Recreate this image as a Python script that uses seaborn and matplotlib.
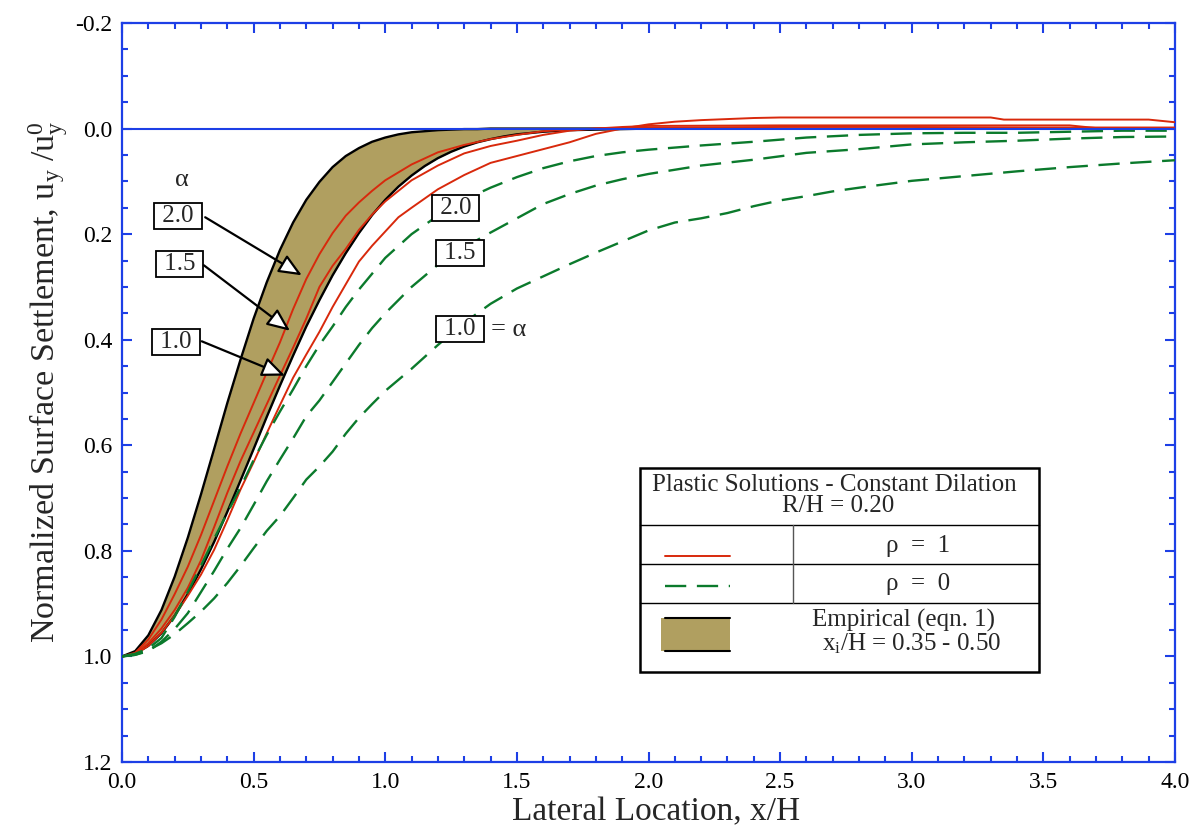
import numpy as np
import pandas as pd
import matplotlib
matplotlib.use("Agg")
import matplotlib.pyplot as plt
import seaborn as sns
from matplotlib.ticker import MultipleLocator, FormatStrFormatter
from matplotlib.patches import Rectangle
from matplotlib.lines import Line2D

# ---------------- data ----------------
emp_x = [0.00, 0.05, 0.10, 0.15, 0.20, 0.25, 0.30, 0.35, 0.40, 0.45, 0.50, 0.55, 0.60,
         0.65, 0.70, 0.75, 0.80, 0.85, 0.90, 0.95, 1.00, 1.05, 1.10, 1.15, 1.20, 1.25,
         1.30, 1.35, 1.40, 1.45, 1.50, 1.60, 1.70, 1.80, 1.90, 2.00]
emp_i035 = [1.000, 0.990, 0.960, 0.912, 0.849, 0.775, 0.693, 0.607, 0.520, 0.438, 0.360, 0.291, 0.230,
            0.178, 0.135, 0.101, 0.073, 0.052, 0.037, 0.025, 0.017, 0.011, 0.007, 0.005, 0.003, 0.002,
            0.001, 0.001, 0.000, 0.000, 0.000, 0.000, 0.000, 0.000, 0.000, 0.000]
emp_i050 = [1.000, 0.995, 0.980, 0.956, 0.923, 0.882, 0.835, 0.783, 0.726, 0.667, 0.607, 0.546, 0.487,
            0.430, 0.375, 0.325, 0.278, 0.236, 0.198, 0.164, 0.135, 0.110, 0.089, 0.071, 0.056, 0.044,
            0.034, 0.026, 0.020, 0.015, 0.011, 0.006, 0.003, 0.002, 0.001, 0.000]

# rho = 1 (red, solid)
r20_x = [0.0, 0.05, 0.1, 0.15, 0.2, 0.25, 0.3, 0.35, 0.4, 0.45, 0.5, 0.55, 0.6, 0.65, 0.7, 0.75, 0.8,
         0.85, 0.9, 0.95, 1.0, 1.1, 1.2, 1.3, 1.4, 1.5, 1.6, 1.7, 1.8, 2.0, 2.5, 3.0, 3.5, 4.0]
r20_y = [1.000, 0.993, 0.968, 0.930, 0.882, 0.830, 0.770, 0.705, 0.640, 0.578, 0.520, 0.462, 0.405,
         0.342, 0.285, 0.238, 0.198, 0.165, 0.140, 0.118, 0.098, 0.068, 0.045, 0.031, 0.020, 0.012,
         0.005, 0.002, 0.000, -0.002, -0.003, -0.003, -0.002, -0.002]
r15_x = [0.0, 0.05, 0.1, 0.15, 0.2, 0.25, 0.3, 0.35, 0.4, 0.45, 0.5, 0.55, 0.6, 0.65, 0.7, 0.75, 0.8,
         0.85, 0.9, 0.95, 1.0, 1.1, 1.2, 1.3, 1.4, 1.5, 1.6, 1.7, 1.8, 1.9, 2.0, 2.5, 3.0, 3.5, 3.6,
         3.7, 4.0]
r15_y = [1.000, 0.995, 0.975, 0.947, 0.912, 0.870, 0.818, 0.755, 0.690, 0.630, 0.576, 0.522, 0.468,
         0.415, 0.360, 0.300, 0.260, 0.228, 0.192, 0.163, 0.138, 0.098, 0.070, 0.047, 0.033, 0.023,
         0.012, 0.004, 0.000, -0.003, -0.005, -0.006, -0.006, -0.006, -0.006, -0.001, -0.001]
r10_x = [0.0, 0.05, 0.1, 0.15, 0.2, 0.25, 0.3, 0.35, 0.4, 0.45, 0.5, 0.55, 0.6, 0.65, 0.7, 0.75, 0.8,
         0.85, 0.9, 0.95, 1.0, 1.05, 1.1, 1.2, 1.3, 1.4, 1.5, 1.6, 1.7, 1.8, 1.9, 2.0, 2.1, 2.2, 2.3,
         2.4, 2.5, 3.0, 3.3, 3.35, 3.9, 4.0]
r10_y = [1.000, 0.996, 0.980, 0.955, 0.923, 0.885, 0.845, 0.798, 0.742, 0.684, 0.632, 0.577, 0.524,
         0.472, 0.428, 0.385, 0.338, 0.295, 0.252, 0.222, 0.195, 0.168, 0.150, 0.115, 0.088, 0.065,
         0.052, 0.039, 0.026, 0.010, 0.000, -0.008, -0.013, -0.016, -0.018, -0.020, -0.021, -0.021,
         -0.021, -0.017, -0.017, -0.012]

# rho = 0 (green, dashed)
g20_x = [0.0, 0.05, 0.1, 0.15, 0.2, 0.25, 0.3, 0.35, 0.4, 0.45, 0.5, 0.55, 0.6, 0.65, 0.7, 0.75, 0.8,
         0.85, 0.9, 0.95, 1.0, 1.1, 1.2, 1.3, 1.4, 1.5, 1.6, 1.7, 1.8, 1.9, 2.0, 2.2, 2.4, 2.6, 2.8,
         3.0, 3.2, 3.4, 3.6, 3.8, 4.0]
g20_y = [1.000, 0.995, 0.985, 0.965, 0.925, 0.878, 0.828, 0.777, 0.728, 0.680, 0.628, 0.580, 0.536,
         0.494, 0.450, 0.410, 0.375, 0.338, 0.305, 0.275, 0.245, 0.200, 0.165, 0.135, 0.112, 0.092,
         0.075, 0.062, 0.052, 0.045, 0.040, 0.032, 0.025, 0.017, 0.012, 0.009, 0.008, 0.008, 0.006,
         0.004, 0.004]
g15_x = [0.0, 0.05, 0.1, 0.15, 0.2, 0.25, 0.3, 0.35, 0.4, 0.45, 0.5, 0.55, 0.6, 0.65, 0.7, 0.75, 0.8,
         0.85, 0.9, 0.95, 1.0, 1.1, 1.2, 1.3, 1.4, 1.5, 1.6, 1.7, 1.8, 1.9, 2.0, 2.2, 2.4, 2.6, 2.8,
         3.0, 3.2, 3.4, 3.6, 3.8, 4.0]
g15_y = [1.000, 0.997, 0.990, 0.972, 0.948, 0.918, 0.878, 0.838, 0.796, 0.757, 0.713, 0.668, 0.627,
         0.587, 0.545, 0.515, 0.480, 0.445, 0.410, 0.378, 0.350, 0.300, 0.258, 0.225, 0.197, 0.170,
         0.143, 0.124, 0.108, 0.096, 0.086, 0.070, 0.059, 0.046, 0.039, 0.030, 0.026, 0.023, 0.019,
         0.016, 0.015]
g10_x = [0.0, 0.05, 0.1, 0.15, 0.2, 0.25, 0.3, 0.35, 0.4, 0.45, 0.5, 0.55, 0.6, 0.65, 0.7, 0.75, 0.8,
         0.85, 0.9, 0.95, 1.0, 1.1, 1.2, 1.3, 1.4, 1.5, 1.6, 1.7, 1.8, 1.9, 2.0, 2.1, 2.2, 2.3, 2.4,
         2.5, 2.6, 2.7, 2.8, 3.0, 3.2, 3.4, 3.6, 3.8, 4.0]
g10_y = [1.000, 0.997, 0.988, 0.975, 0.958, 0.937, 0.915, 0.890, 0.861, 0.829, 0.795, 0.762, 0.734,
         0.700, 0.665, 0.640, 0.612, 0.578, 0.548, 0.522, 0.497, 0.455, 0.410, 0.368, 0.332, 0.303,
         0.280, 0.257, 0.235, 0.214, 0.193, 0.178, 0.170, 0.160, 0.147, 0.136, 0.128, 0.119, 0.112,
         0.099, 0.090, 0.081, 0.073, 0.066, 0.060]

x_ticks = [0.0, 0.5, 1.0, 1.5, 2.0, 2.5, 3.0, 3.5, 4.0]
y_ticks = [-0.2, 0.0, 0.2, 0.4, 0.6, 0.8, 1.0, 1.2]

# ---------------- style ----------------
RED = "#d8290c"
GREEN = "#0b7a2c"
OLIVE = "#b09f60"
BLUE = "#1d3fe6"

sns.set_theme(style="white")
plt.rcParams["font.family"] = ["Liberation Serif", "DejaVu Serif"]
plt.rcParams["mathtext.fontset"] = "custom"
plt.rcParams["mathtext.rm"] = "Liberation Serif"
plt.rcParams["mathtext.it"] = "Liberation Serif:italic"

fig = plt.figure(figsize=(12.01, 8.34), dpi=100)
ax = fig.add_axes([122 / 1201, 1 - 762 / 834, 1053 / 1201, 739 / 834])

# empirical band
ax.fill_between(emp_x, emp_i035, emp_i050, color=OLIVE, lw=0, zorder=1)
sns.lineplot(x=emp_x, y=emp_i035, ax=ax, color="black", lw=1.7, estimator=None, sort=False, zorder=2)
sns.lineplot(x=emp_x, y=emp_i050, ax=ax, color="black", lw=1.7, estimator=None, sort=False, zorder=2)

for xs, ys in [(r20_x, r20_y), (r15_x, r15_y), (r10_x, r10_y)]:
    sns.lineplot(x=xs, y=ys, ax=ax, color=RED, lw=1.4, estimator=None, sort=False, zorder=3)

for xs, ys in [(g20_x, g20_y), (g15_x, g15_y), (g10_x, g10_y)]:
    sns.lineplot(x=xs, y=ys, ax=ax, color=GREEN, lw=1.7, estimator=None, sort=False, zorder=3)
    ax.lines[-1].set_linestyle((0, (9, 4.5)))

ax.axhline(0.0, color=BLUE, lw=1.5, zorder=4)

# axes
ax.set_xlim(0, 4.0)
ax.set_ylim(1.2, -0.2)
ax.xaxis.set_major_locator(MultipleLocator(0.5))
ax.xaxis.set_minor_locator(MultipleLocator(0.1))
ax.yaxis.set_major_locator(MultipleLocator(0.2))
ax.yaxis.set_minor_locator(MultipleLocator(0.05))
ax.xaxis.set_major_formatter(FormatStrFormatter("%.1f"))
ax.yaxis.set_major_formatter(FormatStrFormatter("%.1f"))
ax.set_xticks(x_ticks)
ax.set_yticks(y_ticks)
ax.tick_params(which="both", direction="in", top=True, right=True, bottom=True, left=True,
               color=BLUE, width=1.5, labelsize=17, labelcolor="black")
ax.tick_params(which="major", length=7.5, pad=7)
ax.tick_params(which="minor", length=4.5)
for s in ax.spines.values():
    s.set_color(BLUE)
    s.set_linewidth(1.6)
ax.grid(False)

ax.set_xlabel("Lateral Location, x/H", fontsize=24)
ax.xaxis.set_label_coords(0.507, -0.047)
ax.set_ylabel(r"Normalized Surface Settlement, u$_{\mathrm{y}}$ /u$_{\mathrm{y}}^{\mathrm{0}}$", fontsize=24.5)
ax.yaxis.set_label_coords(-0.049, 0.515)

# annotations: alpha labels on left with arrows
box = dict(boxstyle="square,pad=0.08", fc="white", ec="black", lw=1.3)
ax.text(0.227, 0.098, "α", fontsize=19, ha="center", va="center")
for lab, (bx, by), (sx, sy), (tx, ty) in [
    ("2.0", (0.212, 0.165), (0.316, 0.168), (0.683, 0.278)),
    ("1.5", (0.218, 0.256), (0.311, 0.259), (0.638, 0.383)),
    ("1.0", (0.205, 0.405), (0.303, 0.403), (0.619, 0.468)),
]:
    ax.text(bx, by, " " + lab + " ", fontsize=18, ha="center", va="center", bbox=box, zorder=6)
    ax.annotate("", xy=(tx, ty), xytext=(sx, sy),
                arrowprops=dict(arrowstyle="-|>,head_length=0.7,head_width=0.3", mutation_scale=20,
                                fc="white", ec="black", lw=1.6, shrinkA=0, shrinkB=0), zorder=6)

for lab, (bx, by) in [("2.0", (1.267, 0.151)), ("1.5", (1.283, 0.235)), ("1.0", (1.283, 0.379))]:
    ax.text(bx, by, " " + lab + " ", fontsize=18, ha="center", va="center", bbox=box, zorder=6)
ax.text(1.400, 0.382, "= α", fontsize=19, ha="left", va="center", zorder=6)

# legend table (pixel positions -> axes fraction)
def fx(px):
    return (px - 122) / 1053.0

def fy(py):
    return (762 - py) / 739.0

T = ax.transAxes
ax.add_patch(Rectangle((fx(640), fy(672)), fx(1039) - fx(640), fy(468) - fy(672), transform=T,
                       fc="white", ec="black", lw=1.8, zorder=7))
for py in [525, 564, 603]:
    ax.add_line(Line2D([fx(640), fx(1039)], [fy(py), fy(py)], transform=T, color="black", lw=1.0, zorder=8))
ax.add_line(Line2D([fx(793), fx(793)], [fy(525), fy(603)], transform=T, color="#555555", lw=1.0, zorder=8))
ax.text(fx(834), fy(485), "Plastic Solutions - Constant Dilation", transform=T, fontsize=18,
        ha="center", va="center", zorder=9)
ax.text(fx(838), fy(506), "R/H = 0.20", transform=T, fontsize=18, ha="center", va="center", zorder=9)
ax.add_line(Line2D([fx(665), fx(730)], [fy(556), fy(556)], transform=T, color=RED, lw=1.4, zorder=9))
ax.add_line(Line2D([fx(665), fx(730)], [fy(586), fy(586)], transform=T, color=GREEN, lw=1.7,
                   ls=(0, (9, 4.5)), zorder=9))
ax.text(fx(918), fy(546), "ρ  =  1", transform=T, fontsize=18, ha="center", va="center", zorder=9)
ax.text(fx(918), fy(584), "ρ  =  0", transform=T, fontsize=18, ha="center", va="center", zorder=9)
ax.add_patch(Rectangle((fx(661), fy(651)), fx(730) - fx(661), fy(618) - fy(651), transform=T,
                       fc=OLIVE, ec="none", zorder=9))
for py in [618, 651]:
    ax.add_line(Line2D([fx(665), fx(730)], [fy(py), fy(py)], transform=T, color="black", lw=1.5, zorder=10))
ax.text(fx(904), fy(620), "Empirical (eqn. 1)", transform=T, fontsize=18, ha="center", va="center", zorder=9)
ax.text(fx(912), fy(644), r"x$_{\mathrm{i}}$/H = 0.35 - 0.50", transform=T, fontsize=18,
        ha="center", va="center", zorder=9)

fig.savefig("out.png", dpi=100)
